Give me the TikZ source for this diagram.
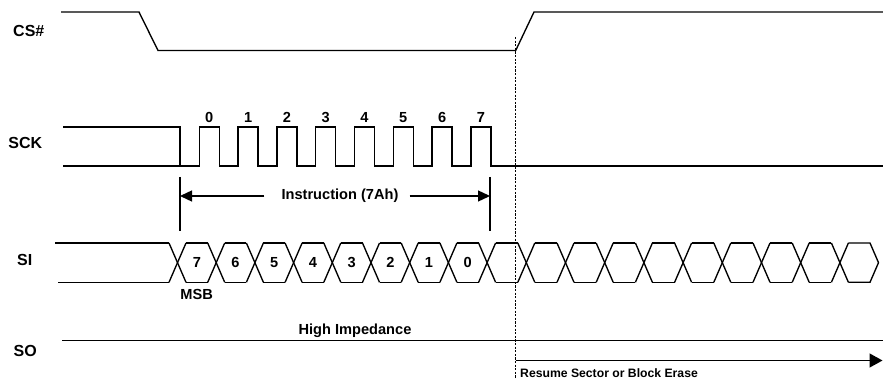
\documentclass[tikz,border=0pt]{standalone}
\usepackage{fontspec}
\setmainfont{Liberation Sans}
\usetikzlibrary{arrows.meta}
\tikzset{
  wave/.style={line width=1.35pt, line join=miter},
  sig/.style={font=\bfseries\fontsize{16}{16}\selectfont, anchor=base, inner sep=0pt},
  lbl/.style={font=\bfseries\fontsize{14.6}{14.6}\selectfont, anchor=base, inner sep=0pt},
  small/.style={font=\bfseries\fontsize{12.2}{12.2}\selectfont, anchor=base west, inner sep=0pt},
  dimarrow/.style={line width=1.35pt, -{Triangle[length=12pt,width=11pt]}},
  marker/.style={line width=1.4pt, dash pattern=on 2.2pt off 1.4pt},
}
\begin{document}
\begin{tikzpicture}[x=1pt,y=-1pt]
\useasboundingbox (0,0) rectangle (883,379);
% signal names
\node[sig] (ncs) at (28.8,36.7) {CS\#};
\node[sig] (nsck) at (25.3,148.3) {SCK};
\node[sig] (nsi) at (24.8,265.7) {SI};
\node[sig] (nso) at (25.3,356) {SO};
% CS#
\draw[wave] (61,12) -- (139,12) -- (158,50.5) -- (515.7,50.5) -- (534,12) -- (883,12);
% SCK
\draw[wave] (63,127) -- (180,127) -- (180,166);
\draw[wave] (63,166)
  \foreach \k in {0,...,7}{ -- ({199.3+38.8*\k},166) -- ({199.3+38.8*\k},127) -- ({219.3+38.8*\k},127) -- ({219.3+38.8*\k},166) }
  -- (883,166);
\foreach \k in {0,...,7}{
  \node[lbl] (ck\k) at ({209.3+38.8*\k},122.7) {\k};
}
% instruction dimension
\coordinate (tl1) at (180,177);
\coordinate (tl2) at (180,231);
\coordinate (tr1) at (490,177);
\coordinate (tr2) at (490,231);
\draw[line width=1.35pt] (tl1) -- (tl2);
\draw[line width=1.35pt] (tr1) -- (tr2);
\node[lbl, anchor=center] (instr) at (340,196) {Instruction (7Ah)};
\coordinate (al) at (180,196);
\coordinate (ar) at (490,196);
\draw[dimarrow] ([xshift=-17pt]instr.west) -- (al);
\draw[dimarrow] ([xshift=11pt]instr.east) -- (ar);
% SI
\def\ht{243}\def\hb{282.3}\def\hm{262.65}\def\hh{8.5}
\draw[wave] (55,\ht) -- ({177.5-\hh},\ht);
\draw[wave] (58,\hb) -- ({177.5-\hh},\hb);
% first segment crosses
\foreach \i in {0,...,8}{
  \pgfmathsetmacro\c{177.5+38.7*\i}
  \draw[wave] ({\c-\hh},\ht) -- ({\c+\hh},\hb);
  \draw[wave] ({\c-\hh},\hb) -- ({\c+\hh},\ht);
}
\foreach \i in {0,...,7}{
  \pgfmathsetmacro\a{177.5+38.7*\i+\hh}
  \pgfmathsetmacro\b{177.5+38.7*(\i+1)-\hh}
  \draw[wave] (\a,\ht) -- (\b,\ht);
  \draw[wave] (\a,\hb) -- (\b,\hb);
}
\foreach \d [count=\i from 0] in {7,6,5,4,3,2,1,0}{
  \node[lbl] (bit\d) at ({177.5+38.7*\i+19.35},268) {\d};
}
% second segment
\def\cs{487.1}
\foreach \j in {1,...,9}{
  \pgfmathsetmacro\c{\cs+39.2*\j}
  \draw[wave] ({\c-\hh},\ht) -- ({\c+\hh},\hb);
  \draw[wave] ({\c-\hh},\hb) -- ({\c+\hh},\ht);
}
\foreach \j in {0,...,8}{
  \pgfmathsetmacro\a{\cs+39.2*\j+\hh}
  \pgfmathsetmacro\b{\cs+39.2*(\j+1)-\hh}
  \draw[wave] (\a,\ht) -- (\b,\ht);
  \draw[wave] (\a,\hb) -- (\b,\hb);
}
\draw[wave] ({\cs+39.2*9+\hh},\ht) -- (870,\ht) -- (878.5,\hm) -- (870,\hb) -- ({\cs+39.2*9+\hh},\hb);
\node[lbl] (msb) at (196.7,299.3) {MSB};
% SO
\draw[wave] (62,340.7) -- (883,340.7);
\node[lbl] (hiz) at (355,334) {High Impedance};
% marker line
\coordinate (m1) at (515.7,37);
\coordinate (m2) at (515.7,379);
\draw[marker] (m1) -- (m2);
\coordinate (rs) at (515.7,360.5);
\coordinate (re) at (882.5,360.5);
\draw[line width=1.35pt, -{Triangle[length=13pt,width=14pt]}] (rs) -- (re);
\node[small] (resume) at (520,377) {Resume Sector or Block Erase};
\end{tikzpicture}
\end{document}
